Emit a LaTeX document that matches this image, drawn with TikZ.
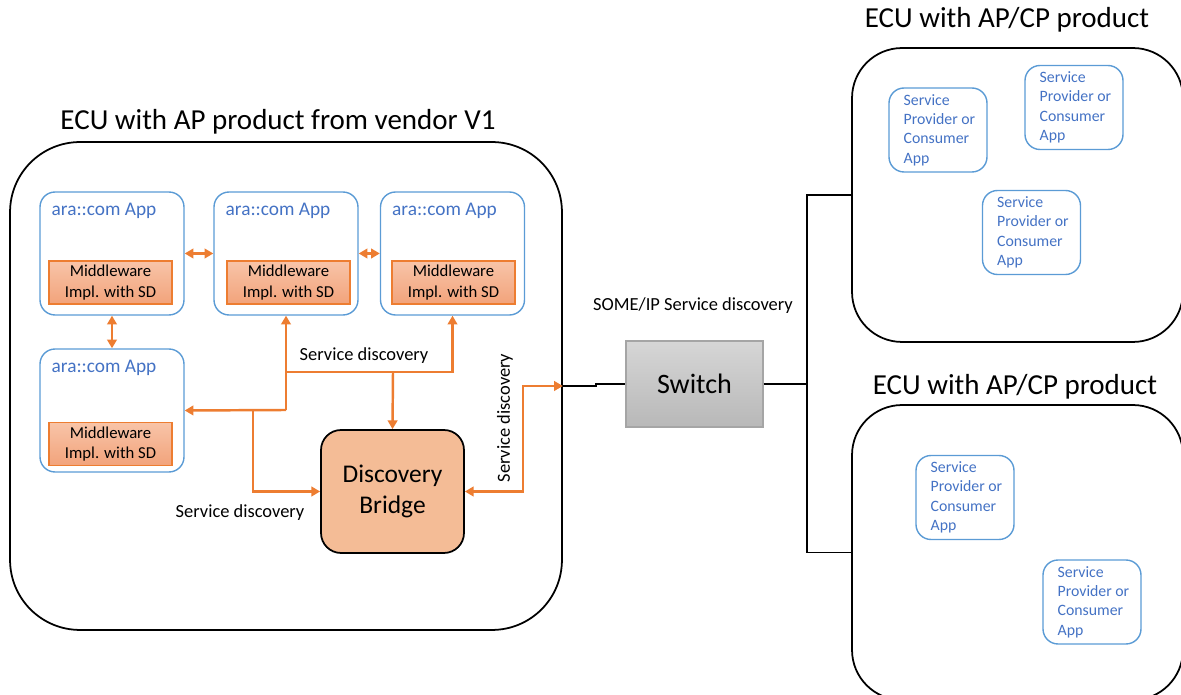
\documentclass[tikz,border=0pt]{standalone}
\usepackage{fontspec}
\setmainfont{Carlito}
\usetikzlibrary{shapes, arrows.meta, calc, positioning}
\definecolor{appblue}{HTML}{5B9BD5}
\definecolor{apptext}{HTML}{4472C4}
\definecolor{sdorange}{HTML}{ED7D31}
\definecolor{mwtop}{HTML}{F8C4A8}
\definecolor{mwbot}{HTML}{F2A37B}
\definecolor{dbfill}{HTML}{F4BC96}
\definecolor{swtop}{HTML}{D6D6D6}
\definecolor{swbot}{HTML}{B8B8B8}
\definecolor{swedge}{HTML}{A5A5A5}
\newcommand{\svctxt}{Service\\Provider or\\Consumer\\App}

\begin{document}
\begin{tikzpicture}[x=0.02cm,y=-0.02cm,
    ecu/.style={draw, line width=1pt},
    title/.style={font=\fontsize{16.5}{20}\selectfont},
    appbox/.style={draw=appblue, line width=0.8pt, rounded corners=0.3cm, minimum width=2.88cm, minimum height=2.46cm},
    applabel/.style={text=apptext, font=\fontsize{11}{13}\selectfont, anchor=base west, inner sep=0},
    mwbox/.style={draw=sdorange, line width=0.8pt, top color=mwtop, bottom color=mwbot, minimum width=2.46cm, minimum height=0.86cm, align=center, font=\fontsize{9.5}{11.7}\selectfont, inner sep=0},
    svcbox/.style={draw=appblue, line width=0.8pt, rounded corners=0.3cm, minimum width=1.96cm, minimum height=1.68cm},
    svctext/.style={text=apptext, align=left, anchor=west, font=\fontsize{9}{11}\selectfont, inner sep=0},
    sd/.style={draw=sdorange, line width=1.4pt},
    wire/.style={draw, line width=0.9pt},
    lbl/.style={font=\fontsize{10.5}{12.5}\selectfont},
    >={Triangle[length=5pt,width=5.5pt]}]
    \useasboundingbox (0,0) rectangle (1181,695);

    % ECUs
    \node[ecu, rounded corners=1.4cm, minimum width=11.04cm, minimum height=9.76cm] (ecuL) at (286,386) {};
    \node[title] (ecuLt) at (278,122) {ECU with AP product from vendor V1};
    \node[ecu, rounded corners=1cm, minimum width=6.62cm, minimum height=5.88cm] (ecuR1) at (1017.5,195) {};
    \node[title] (ecuR1t) at (1007,20) {ECU with AP/CP product};
    \node[ecu, rounded corners=1cm, minimum width=6.62cm, minimum height=5.9cm] (ecuR2) at (1017.5,552.5) {};
    \node[title] (ecuR2t) at (1015,387) {ECU with AP/CP product};

    % ara::com apps
    \node[appbox] (app1) at (112,253.5) {};
    \node[appbox] (app2) at (286,253.5) {};
    \node[appbox] (app3) at (452.5,253.5) {};
    \node[appbox] (app4) at (112,410.5) {};
    \foreach \a in {1,...,4} {
        \node[applabel] (lab\a) at ($(app\a.north west)+(12,24)$) {ara::com App};
    }
    \node[mwbox] (mw1) at (110.5,282.5) {Middleware\\Impl. with SD};
    \node[mwbox] (mw2) at (288.5,282.5) {Middleware\\Impl. with SD};
    \node[mwbox] (mw3) at (453.5,282.5) {Middleware\\Impl. with SD};
    \node[mwbox] (mw4) at (110.5,444) {Middleware\\Impl. with SD};

    \node[draw, line width=1pt, fill=dbfill, rounded corners=0.4cm, minimum width=2.86cm, minimum height=2.46cm, align=center, font=\fontsize{14.5}{17.5}\selectfont] (db) at (392.5,491.5) {Discovery\\Bridge};

    % service discovery paths
    \coordinate (sdTop) at (393,372);
    \coordinate (sdMid) at (286,410);
    \coordinate (sdLow) at (253,410);
    \draw[sd,<->] (app1.east) -- (app2.west);
    \draw[sd,<->] (app2.east) -- (app3.west);
    \draw[sd,<->] (app1.south) -- (app4.north);
    \draw[sd,->] (sdMid) -- (app2.south);
    \draw[sd,->] (app2.south |- sdTop) -| (app3.south);
    \draw[sd,->] (sdTop) -- (db.north);
    \draw[sd,->] (sdMid) -- (app4.east);
    \draw[sd,->] (sdLow) |- (db.west);
    \draw[sd,<->] (db.east) -- ++(58,0) |- (ecuL.east);

    \node[lbl] (sd1) at (364,356) {Service discovery};
    \node[lbl] (sd2) at (240,513) {Service discovery};
    \node[lbl, rotate=90] (sd3) at (505,418) {Service discovery};

    % switch
    \node[draw=swedge, line width=0.8pt, top color=swtop, bottom color=swbot, minimum width=2.74cm, minimum height=1.72cm, font=\fontsize{16}{19}\selectfont] (sw) at (694.5,384) {Switch};
    \node[lbl] (someip) at (693,306) {SOME/IP Service discovery};
    \coordinate (hub) at (807,384);
    \draw[wire] (ecuL.east) -- ++(33,0) |- (sw.west);
    \draw[wire] (sw.east) -- (hub);
    \draw[wire] (hub) |- (ecuR1.west);
    \draw[wire] (hub) |- (ecuR2.west);

    % other ECU apps
    \node[svcbox] (s1) at (938,130) {};
    \node[svcbox] (s2) at (1074,107.5) {};
    \node[svcbox] (s3) at (1031.5,232.5) {};
    \node[svcbox] (s4) at (965,497.5) {};
    \node[svcbox] (s5) at (1092,602) {};
    \foreach \s in {1,...,5} {
        \node[svctext] (st\s) at ($(s\s.west)+(15,0)$) {\svctxt};
    }
\end{tikzpicture}
\end{document}
